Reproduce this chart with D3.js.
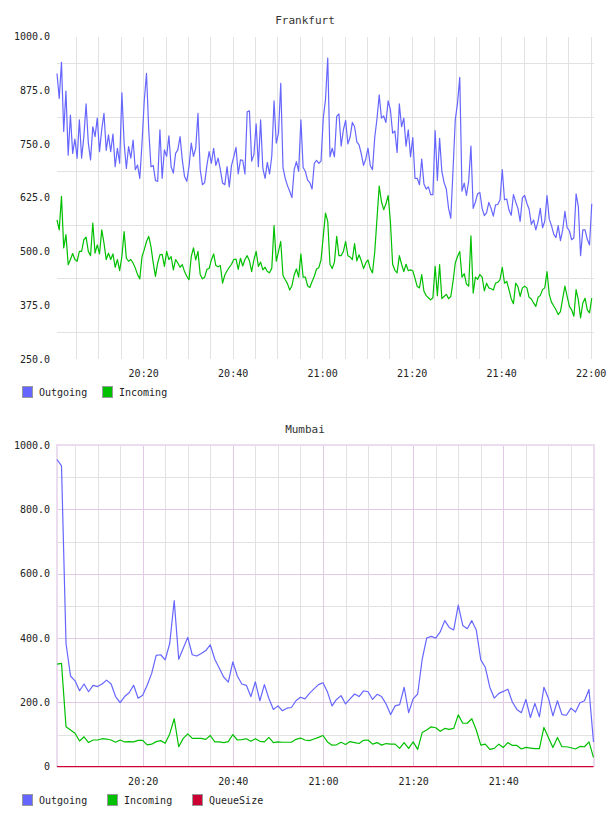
<!DOCTYPE html>
<html><head><meta charset="utf-8">
<script src="https://cdn.jsdelivr.net/npm/d3@7"></script>
<style>
body{margin:0;background:#fff}
svg{display:block}
text{font-family:"DejaVu Sans Mono",monospace;fill:#222}
</style>
</head><body>
<svg id="chart" width="608" height="816"></svg>
<script>
// ---------- DATA ----------
const seriesNames = ["Outgoing", "Incoming", "QueueSize"];
const seriesColors = ["#6666ff", "#00c000", "#cc0033"];

const frankfurtTitle = "Frankfurt";
const frankfurtStart = "20:00:45";
const frankfurtEnd = "22:00:45";
const frankfurtStepSec = 30;
const frankfurtOutgoing = [
914,856,940,779,873,724,817,728,761,717,
806,717,767,843,752,713,790,767,810,732,
784,821,735,771,732,773,697,740,705,869,
752,693,744,717,759,690,701,670,752,851,
914,783,697,700,665,663,783,670,736,721,
769,697,682,728,736,767,713,674,663,697,
752,721,740,821,690,655,660,700,732,705,
740,700,717,690,659,655,697,650,700,720,
742,680,713,712,680,825,827,710,725,797,
697,806,693,670,707,680,722,850,752,775,
891,695,670,653,640,625,690,709,686,806,
695,686,666,660,645,705,712,705,710,810,
853,950,720,740,720,814,820,745,783,805,
750,766,800,790,755,748,727,700,715,740,
700,690,765,808,864,810,815,800,850,830,
775,780,730,843,790,810,745,783,720,765,
670,670,655,715,657,645,650,632,632,781,
665,763,686,660,645,600,577,690,806,845,
905,640,659,630,664,745,600,615,634,637,
600,583,590,614,600,582,608,609,620,690,
620,622,596,584,632,615,600,570,625,630,
612,598,563,573,550,570,600,555,570,630,
575,560,540,532,560,525,550,593,555,548,
527,531,634,604,490,550,550,528,515,611
];
const frankfurtIncoming = [
573,550,628,508,539,469,481,495,481,477,
500,500,527,533,500,490,566,496,515,494,
550,519,481,496,481,494,463,481,455,488,
546,484,477,481,473,461,446,436,488,504,
523,535,511,473,442,473,492,493,465,500,
481,488,457,481,473,463,469,453,442,434,
488,508,480,500,446,436,440,458,460,480,
494,467,464,467,426,445,455,463,470,481,
482,458,484,466,481,490,478,453,480,500,
465,475,457,463,453,450,461,560,477,500,
523,444,434,425,410,420,445,459,440,494,
440,440,420,416,430,442,459,462,480,535,
589,570,470,460,475,535,490,490,500,523,
490,487,481,518,478,492,478,460,473,480,
460,450,498,575,652,616,597,610,630,570,
470,456,450,490,470,453,470,455,457,455,
437,418,415,446,407,397,392,387,392,465,
397,469,390,395,400,390,395,430,473,488,
500,440,448,424,419,536,403,440,435,446,
440,408,426,415,413,410,426,428,434,463,
426,430,411,390,378,426,418,395,415,419,
415,393,389,380,372,393,397,411,415,453,
400,382,373,364,353,360,390,419,395,372,
364,349,411,387,345,380,391,364,357,391
];
const frankfurtYTicks = [1000, 875, 750, 625, 500, 375, 250];
const frankfurtXTicks = ["20:20", "20:40", "21:00", "21:20", "21:40", "22:00"];

const mumbaiTitle = "Mumbai";
const mumbaiStart = "20:01:00";
const mumbaiEnd = "22:00:00";
const mumbaiStepSec = 60;
const mumbaiOutgoing = [
955,935,383,282,267,236,257,233,253,249,
257,269,257,218,199,218,230,253,213,222,
253,290,346,348,332,383,516,334,368,402,
348,344,352,361,379,334,306,278,263,326,
282,257,253,218,264,205,255,212,178,189,
174,182,184,205,216,211,228,242,255,261,
232,189,209,221,195,211,226,218,236,233,
209,225,218,195,162,189,193,247,168,211,
226,334,400,405,400,419,454,433,425,502,
439,429,454,425,332,309,247,213,228,234,
241,201,178,168,209,153,197,155,247,213,
158,205,162,160,182,170,199,205,240,77
];
const mumbaiIncoming = [
319,321,124,114,104,80,93,75,83,83,
87,86,83,76,83,77,78,77,82,82,
68,70,78,81,73,102,149,62,88,102,
88,88,88,85,97,77,77,75,78,100,
83,84,87,79,87,79,77,91,75,77,
76,76,76,85,89,83,81,86,91,97,
77,67,68,76,69,78,75,72,82,83,
70,75,67,72,70,70,57,75,57,77,
54,106,114,124,121,110,119,116,119,161,
135,135,149,114,67,70,54,57,70,60,
75,66,66,55,60,58,56,56,122,91,
60,91,62,62,59,55,63,62,77,29
];
const mumbaiQueueSize = [
0,0,0,0,0,0,0,0,0,0,0,0,0,0,0,0,0,0,0,0,
0,0,0,0,0,0,0,0,0,0,0,0,0,0,0,0,0,0,0,0,
0,0,0,0,0,0,0,0,0,0,0,0,0,0,0,0,0,0,0,0,
0,0,0,0,0,0,0,0,0,0,0,0,0,0,0,0,0,0,0,0,
0,0,0,0,0,0,0,0,0,0,0,0,0,0,0,0,0,0,0,0,
0,0,0,0,0,0,0,0,0,0,0,0,0,0,0,0,0,0,0,0
];
const mumbaiYTicks = [1000, 800, 600, 400, 200, 0];
const mumbaiXTicks = ["20:20", "20:40", "21:00", "21:20", "21:40"];

// ---------- DRAW ----------
const parseHMS = d3.timeParse("%H:%M:%S");
const parseHM = d3.timeParse("%H:%M");
const svg = d3.select("#chart");

function drawChart(cfg) {
  const g = svg.append("g");
  const t0 = parseHMS(cfg.start), t1 = parseHMS(cfg.end);
  const x = d3.scaleTime().domain([t0, t1]).range([cfg.left, cfg.right]);
  const y = d3.scaleLinear().domain([cfg.yTicks[cfg.yTicks.length - 1], cfg.yTicks[0]])
              .range([cfg.bottom, cfg.top]);

  // title
  g.append("text").attr("x", cfg.titleX).attr("y", cfg.titleY)
    .attr("text-anchor", "middle").style("font-size", "11px").style("fill", "#333")
    .text(cfg.title);

  const grid = g.append("g").attr("shape-rendering", "crispEdges");
  // minor horizontal gridlines at midpoints between labelled ticks
  const mids = d3.pairs(cfg.yTicks).map(([a, b]) => (a + b) / 2);
  grid.selectAll(".hmin").data(mids).join("line")
    .attr("x1", cfg.left).attr("x2", cfg.right)
    .attr("y1", d => Math.round(y(d)) + 0.5).attr("y2", d => Math.round(y(d)) + 0.5)
    .attr("stroke", "#e2e2e2");
  // vertical 5-minute gridlines
  const fiveMin = d3.timeMinute.every(5).range(t0, t1);
  grid.selectAll(".vmin").data(fiveMin.filter(d => !cfg.major || d.getMinutes() % 20 !== 0)).join("line")
    .attr("x1", d => Math.round(x(d)) + 0.5).attr("x2", d => Math.round(x(d)) + 0.5)
    .attr("y1", cfg.top).attr("y2", cfg.bottom)
    .attr("stroke", "#e2e2e2");

  if (cfg.major) {
    // major (labelled) horizontal lines
    grid.selectAll(".hmaj").data(cfg.yTicks.filter(v => v !== cfg.yTicks[0] && v !== 0)).join("line")
      .attr("x1", cfg.left).attr("x2", cfg.right)
      .attr("y1", d => Math.round(y(d)) + 0.5).attr("y2", d => Math.round(y(d)) + 0.5)
      .attr("stroke", cfg.major);
    grid.selectAll(".vmaj").data(fiveMin.filter(d => d.getMinutes() % 20 === 0)).join("line")
      .attr("x1", d => Math.round(x(d)) + 0.5).attr("x2", d => Math.round(x(d)) + 0.5)
      .attr("y1", cfg.top).attr("y2", cfg.bottom)
      .attr("stroke", cfg.major);
    // border
    grid.append("path")
      .attr("d", `M${cfg.left},${cfg.bottom}V${cfg.top}H${cfg.right}V${cfg.bottom}`)
      .attr("fill", "none").attr("stroke", cfg.border).attr("stroke-width", 2);
  }

  // series lines
  const line = d3.line().x(d => x(d.t)).y(d => y(d.v));
  cfg.series.forEach((vals, si) => {
    const pts = vals.map((v, i) => ({ t: d3.timeSecond.offset(t0, i * cfg.step), v }));
    g.append("path").datum(pts)
      .attr("d", line).attr("fill", "none")
      .attr("stroke", seriesColors[si]).attr("stroke-width", 1.2)
      .attr("stroke-linejoin", "round");
  });

  // y axis labels
  const fmt = d => d === 0 ? "0" : d3.format(".1f")(d);
  const ya = g.append("g").attr("transform", `translate(${cfg.left},0)`)
    .call(d3.axisLeft(y).tickValues(cfg.yTicks).tickSize(0).tickPadding(7).tickFormat(fmt));
  ya.select(".domain").remove();
  ya.selectAll("text").style("font-size", "10px").style("font-family", '"DejaVu Sans Mono",monospace').attr("fill", "#222");

  // x axis labels
  const xa = g.append("g").attr("transform", `translate(0,${cfg.bottom})`)
    .call(d3.axisBottom(x).tickValues(cfg.xTicks.map(s => parseHM(s)))
      .tickSize(0).tickPadding(11).tickFormat(d3.timeFormat("%H:%M")));
  xa.select(".domain").remove();
  xa.selectAll("text").style("font-size", "10px").style("font-family", '"DejaVu Sans Mono",monospace').attr("fill", "#222");

  // legend
  const leg = g.append("g");
  cfg.series.forEach((vals, si) => {
    const lx = cfg.legendX[si];
    leg.append("rect").attr("x", lx + 0.5).attr("y", cfg.legendY - 5.5)
      .attr("width", 10).attr("height", 11)
      .attr("fill", seriesColors[si]).attr("stroke", "#999");
    leg.append("text").attr("x", lx + 17).attr("y", cfg.legendY + 4)
      .style("font-size", "10px").text(seriesNames[si]);
  });
}

drawChart({
  title: frankfurtTitle, titleX: 305, titleY: 24,
  start: frankfurtStart, end: frankfurtEnd, step: frankfurtStepSec,
  left: 57, right: 594, top: 36.5, bottom: 358.8,
  yTicks: frankfurtYTicks, xTicks: frankfurtXTicks,
  series: [frankfurtOutgoing, frankfurtIncoming],
  legendX: [22, 102], legendY: 392
});

drawChart({
  title: mumbaiTitle, titleX: 305, titleY: 433,
  start: mumbaiStart, end: mumbaiEnd, step: mumbaiStepSec,
  left: 57, right: 593.5, top: 445, bottom: 766.7,
  yTicks: mumbaiYTicks, xTicks: mumbaiXTicks,
  series: [mumbaiOutgoing, mumbaiIncoming, mumbaiQueueSize],
  major: "#e2c9e6", border: "#ecdcef",
  legendX: [22, 107, 192], legendY: 800
});
</script>
</body></html>
